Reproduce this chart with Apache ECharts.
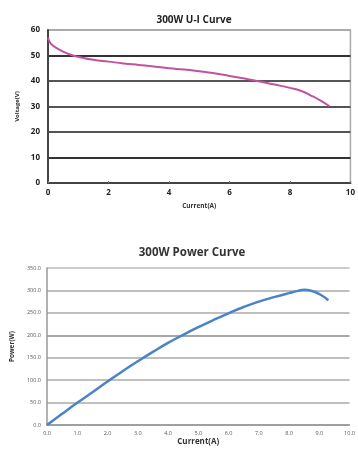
<!DOCTYPE html>
<html><head><meta charset="utf-8">
<script src="https://cdn.jsdelivr.net/npm/echarts@6/dist/echarts.min.js"></script>
<style>html,body{margin:0;padding:0;background:#fff}#c{width:358px;height:450px}</style>
</head><body><div id="c"></div>
<script>
// U-I curve: current (A), voltage (V)
const uiCurrent = [0, 0.05, 0.15, 0.3, 0.5, 0.75, 1.0, 1.5, 2.0, 2.5, 3.0, 3.5, 4.0, 4.5, 5.0, 5.5, 6.0, 6.5, 7.0, 7.5, 8.0, 8.4, 8.7, 9.0, 9.3];
const uiVoltage = [57, 55.5, 54, 52.8, 51.5, 50.3, 49.5, 48.3, 47.6, 46.9, 46.3, 45.7, 45.0, 44.5, 43.8, 43.0, 42.0, 41.0, 39.8, 38.6, 37.3, 36.0, 34.3, 32.4, 30.2];
// Power curve: current (A), power (W)
const pCurrent = [0, 0.5, 1.0, 1.5, 2.0, 2.5, 3.0, 3.5, 4.0, 4.5, 5.0, 5.5, 6.0, 6.5, 7.0, 7.5, 8.0, 8.3, 8.5, 8.7, 9.0, 9.3];
const pPower = [0, 25, 49.5, 73, 97, 120, 142, 163, 183, 201, 218, 234, 249, 263, 275, 285, 294, 299, 301.5, 300, 292, 278];
const uiTicks = ['0', '2', '4', '6', '8', '10'];
const titles = ['300W U-I Curve', '300W Power Curve'];

const chart = echarts.init(document.getElementById('c'), null, {renderer: 'canvas'});
const font = 'Open Sans';
chart.setOption({
  animation: false,
  backgroundColor: '#fff',
  title: [
    {text: titles[0], left: 189, top: 10, textAlign: 'center', textStyle: {fontFamily: font, fontSize: 10, fontWeight: 'bold', color: '#222'}},
    {text: titles[1], left: 187, top: 242, textAlign: 'center', textStyle: {fontFamily: font, fontSize: 11.5, fontWeight: 'bold', color: '#333'}}
  ],
  grid: [
    {left: 48, right: 2, top: 30, height: 153, show: true, borderColor: '#aaa', borderWidth: 1.5},
    {left: 47, right: 2, top: 268, height: 157}
  ],
  xAxis: [
    {gridIndex: 0, type: 'value', min: 0, max: 10, interval: 2,
     name: 'Current(A)', nameLocation: 'middle', nameGap: 20,
     nameTextStyle: {fontFamily: font, fontSize: 6.5, fontWeight: 'bold', color: '#333'},
     axisLine: {lineStyle: {color: '#444', width: 2}},
     axisTick: {show: true, inside: true, length: 2, lineStyle: {color: '#777'}},
     axisLabel: {fontFamily: font, fontSize: 8, fontWeight: 'bold', color: '#222', margin: 6, formatter: v => uiTicks[v / 2]},
     splitLine: {show: false}},
    {gridIndex: 1, type: 'value', min: 0, max: 10, interval: 1,
     name: 'Current(A)', nameLocation: 'middle', nameGap: 13,
     nameTextStyle: {fontFamily: font, fontSize: 8, fontWeight: 'bold', color: '#333'},
     axisLine: {lineStyle: {color: '#999', width: 1.5}},
     axisTick: {show: false},
     axisLabel: {fontFamily: font, fontSize: 5.5, color: '#555', margin: 5, formatter: v => v.toFixed(1)},
     splitLine: {show: false}}
  ],
  yAxis: [
    {gridIndex: 0, type: 'value', min: 0, max: 60, interval: 10,
     name: 'Voltage(V)', nameLocation: 'middle', nameGap: 24,
     nameTextStyle: {fontFamily: font, fontSize: 6, fontWeight: 'bold', color: '#333'},
     axisLine: {show: true, lineStyle: {color: '#444', width: 2}},
     axisTick: {show: false},
     axisLabel: {fontFamily: font, fontSize: 8, fontWeight: 'bold', color: '#222', margin: 8},
     splitLine: {show: true, lineStyle: {width: 2, color: ['#444', '#333', '#555', '#555', '#555', '#333', '#aaa']}}},
    {gridIndex: 1, type: 'value', min: 0, max: 350, interval: 50,
     name: 'Power(W)', nameLocation: 'middle', nameGap: 30,
     nameTextStyle: {fontFamily: font, fontSize: 6.5, fontWeight: 'bold', color: '#333'},
     axisLine: {show: true, lineStyle: {color: '#999', width: 1.5}},
     axisTick: {show: false},
     axisLabel: {fontFamily: font, fontSize: 5.5, color: '#555', margin: 6, formatter: v => v.toFixed(1)},
     splitLine: {show: true, lineStyle: {width: 1.5, color: ['#999', '#aaa', '#aaa', '#aaa', '#888', '#aaa', '#aaa', '#bbb']}}}
  ],
  series: [
    {type: 'line', xAxisIndex: 0, yAxisIndex: 0, smooth: true, showSymbol: false,
     lineStyle: {color: '#c2519f', width: 2}, data: uiCurrent.map((c, i) => [c, uiVoltage[i]])},
    {type: 'line', xAxisIndex: 1, yAxisIndex: 1, smooth: true, showSymbol: false,
     lineStyle: {color: '#4a84c6', width: 2.5}, data: pCurrent.map((c, i) => [c, pPower[i]])}
  ]
});
</script></body></html>
